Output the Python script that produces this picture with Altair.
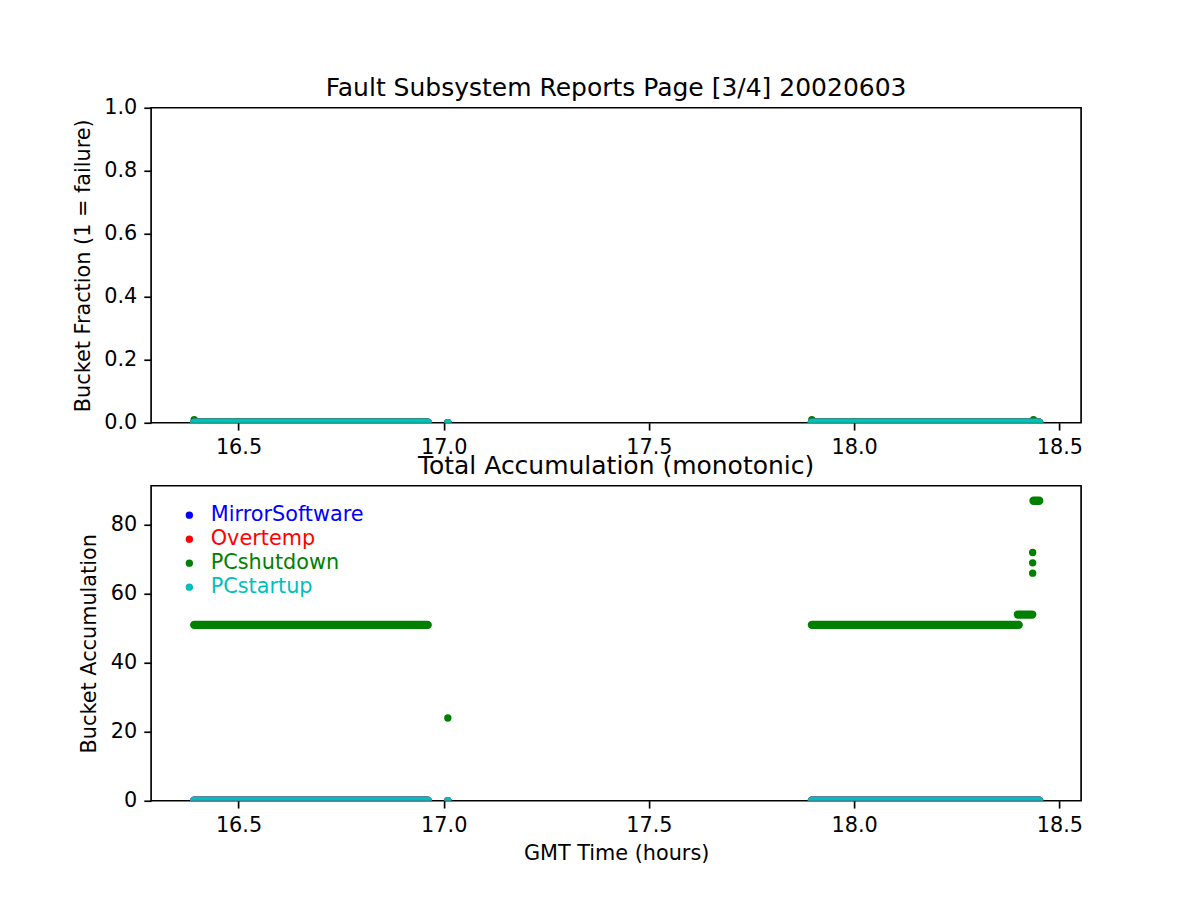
import altair as alt
import pandas as pd

# ---------------- data ----------------
SERIES = ["MirrorSoftware", "Overtemp", "PCshutdown", "PCstartup"]
COLORS = ["#0000ff", "#ff0000", "#008000", "#00bfbf"]

X_DOMAIN = [16.287, 18.553]
X_TICKS = [16.5, 17.0, 17.5, 18.0, 18.5]
TOP_Y_DOMAIN = [0.0, 1.0]
TOP_Y_TICKS = [0.0, 0.2, 0.4, 0.6, 0.8, 1.0]
BOT_Y_DOMAIN = [0.0, 91.35]
BOT_Y_TICKS = [0, 20, 40, 60, 80]

# dense runs of samples (start time, end time, value) -- top panel
top_run_series = ["MirrorSoftware", "MirrorSoftware", "Overtemp", "Overtemp",
                  "PCshutdown", "PCshutdown", "PCstartup", "PCstartup"]
top_run_start = [16.392, 17.897, 16.392, 17.897, 16.392, 17.897, 16.392, 17.897]
top_run_end = [16.961, 18.451, 16.961, 18.451, 16.961, 18.451, 16.961, 18.451]
top_run_value = [0, 0, 0, 0, 0, 0, 0, 0]

# isolated samples -- top panel
top_pt_series = ["MirrorSoftware", "Overtemp", "PCshutdown", "PCshutdown",
                 "PCshutdown", "PCshutdown", "PCstartup"]
top_pt_time = [17.010, 17.010, 16.392, 17.897, 18.437, 17.010, 17.010]
top_pt_value = [0, 0, 0.01, 0.01, 0.01, 0, 0]

# dense runs -- bottom panel
bot_run_series = ["MirrorSoftware", "MirrorSoftware", "Overtemp", "Overtemp",
                  "PCshutdown", "PCshutdown", "PCshutdown", "PCshutdown",
                  "PCstartup", "PCstartup"]
bot_run_start = [16.392, 17.897, 16.392, 17.897,
                 16.392, 17.897, 18.399, 18.437,
                 16.392, 17.897]
bot_run_end = [16.961, 18.451, 16.961, 18.451,
               16.961, 18.401, 18.434, 18.451,
               16.961, 18.451]
bot_run_value = [0, 0, 0, 0, 51, 51, 54, 87, 0, 0]

# isolated samples -- bottom panel
bot_pt_series = ["MirrorSoftware", "Overtemp", "PCshutdown", "PCshutdown",
                 "PCshutdown", "PCshutdown", "PCstartup"]
bot_pt_time = [17.010, 17.010, 17.010, 18.435, 18.435, 18.435, 17.010]
bot_pt_value = [0, 0, 24, 66, 69, 72, 0]

# ---------------- styling ----------------
FONT = "DejaVu Sans"
FS = 20.8
MS = 8.3  # marker diameter (px)

label_color_expr = "".join(
    f"datum.value === '{s}' ? '{c}' : " for s, c in zip(SERIES[:-1], COLORS[:-1])
) + f"'{COLORS[-1]}'"


def panel(run_df, pt_df, ydomain, yticks, yfmt, ytitle, ytitlepad, title, title_offset,
          xtitle, legend):
    xs = alt.Scale(domain=X_DOMAIN, nice=False, zero=False)
    ys = alt.Scale(domain=ydomain, nice=False, zero=False)
    cs = alt.Scale(domain=SERIES, range=COLORS)
    xaxis_kw = dict(values=X_TICKS, format=".1f", labelFlush=False,
                    minExtent=35, maxExtent=35)
    if xtitle:
        xaxis = alt.Axis(title=xtitle, titlePadding=7.5, **xaxis_kw)
    else:
        xaxis = alt.Axis(title=None, **xaxis_kw)
    yaxis = alt.Axis(values=yticks, format=yfmt, title=ytitle, labelFlush=False,
                     minExtent=45, maxExtent=45, titlePadding=ytitlepad)
    color_pts = alt.Color("series:N", scale=cs, legend=legend) if legend is not None \
        else alt.Color("series:N", scale=cs, legend=None)

    pts = alt.Chart(pt_df).mark_circle(size=3.14159 * (MS / 2) ** 2, opacity=1, clip=True).encode(
        x=alt.X("time:Q", scale=xs, axis=xaxis),
        y=alt.Y("value:Q", scale=ys, axis=yaxis),
        color=color_pts,
    )
    runs = alt.Chart(run_df).mark_rule(strokeWidth=MS, strokeCap="round", clip=True).encode(
        x=alt.X("start:Q", scale=xs),
        x2="end:Q",
        y=alt.Y("value:Q", scale=ys),
        color=alt.Color("series:N", scale=cs, legend=None),
    )
    return alt.layer(pts, runs).properties(
        width=930, height=315, title=alt.TitleParams(title, offset=title_offset)
    )


top_runs = pd.DataFrame({"series": top_run_series, "start": top_run_start,
                         "end": top_run_end, "value": top_run_value})
top_pts = pd.DataFrame({"series": top_pt_series, "time": top_pt_time, "value": top_pt_value})
bot_runs = pd.DataFrame({"series": bot_run_series, "start": bot_run_start,
                         "end": bot_run_end, "value": bot_run_value})
bot_pts = pd.DataFrame({"series": bot_pt_series, "time": bot_pt_time, "value": bot_pt_value})

legend = alt.Legend(
    orient="none", legendX=27.85, legendY=19, title=None, padding=0,
    labelFont=FONT, labelFontSize=FS, labelColor={"expr": label_color_expr},
    symbolType="circle", symbolSize=3.14159 * (MS / 2) ** 2, symbolStrokeWidth=0,
    symbolOpacity=1, rowPadding=2.0, labelOffset=11,
)

top = panel(top_runs, top_pts, TOP_Y_DOMAIN, TOP_Y_TICKS, ".1f",
            "Bucket Fraction (1 = failure)", 13.0,
            "Fault Subsystem Reports Page [3/4] 20020603", -3.75, None, None)
bottom = panel(bot_runs, bot_pts, BOT_Y_DOMAIN, BOT_Y_TICKS, "d",
               "Bucket Accumulation", 7.0,
               "Total Accumulation (monotonic)", 6.25, "GMT Time (hours)", legend)

chart = (
    alt.vconcat(top, bottom, spacing=63, bounds="flush")
    .resolve_scale(color="independent")
    .properties(padding={"left": 63.1, "top": 65.75, "right": 5, "bottom": 5},
                background="white")
    .configure(font=FONT)
    .configure_view(stroke="black", strokeWidth=1.67)
    .configure_axis(grid=False, domain=False, tickColor="black", tickWidth=1.67,
                    tickSize=7.3, labelPadding=7, labelFont=FONT, labelFontSize=FS,
                    labelColor="black", titleFont=FONT, titleFontSize=FS,
                    titleFontWeight="normal", titleColor="black")
    .configure_title(font=FONT, fontSize=25, fontWeight="normal", color="black",
                     anchor="middle", frame="group")
)

chart.save("out.html", embed_options={"renderer": "svg", "actions": False})
